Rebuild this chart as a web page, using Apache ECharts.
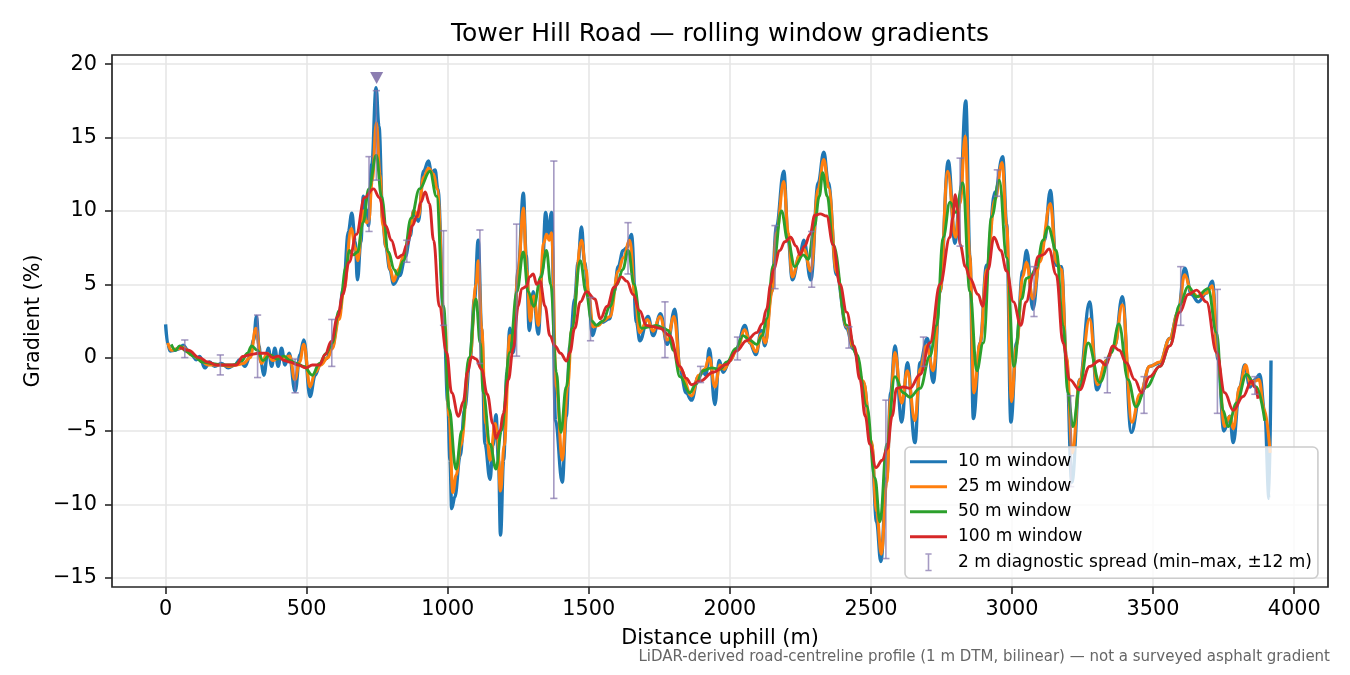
<!DOCTYPE html>
<html><head><meta charset="utf-8">
<script src="https://cdn.jsdelivr.net/npm/echarts@6/dist/echarts.min.js"></script>
<style>html,body{margin:0;padding:0;background:#fff}#c{width:1350px;height:675px}</style>
</head><body><div id="c"></div>
<script>
const xTicks = [0, 500, 1000, 1500, 2000, 2500, 3000, 3500, 4000];
const yTicks = [-15, -10, -5, 0, 5, 10, 15, 20];

const w10 = [[0,2.27],[8,0.9],[16,0.45],[32,0.5],[48,0.6],[62,0.85],[79,0.5],[91,0.2],[109,-0.15],[121,0.07],[139,-0.7],[156,-0.3],[174,-0.6],[198,-0.4],[222,-0.7],[245,-0.5],[263,-0.15],[281,-0.6],[299,0.07],[312,1.2],[322,2.8],[331,0.8],[338,-0.3],[348,-1.2],[364,0.64],[376,-0.6],[387,0.64],[399,-0.6],[411,0.64],[423,-0.5],[438,0.3],[459,-2.3],[476,0.2],[490,1.2],[512,-2.66],[530,-1.2],[547,-0.5],[571,-0.05],[589,0.64],[613,2.7],[630,4.7],[648,8.6],[660,9.85],[672,7.9],[680,5.3],[692,7.9],[701,11.0],[711,10.1],[719,9.0],[731,13.2],[746,18.4],[756,15.8],[770,9.4],[780,7.6],[795,6.0],[808,5.0],[830,5.6],[850,6.9],[867,8.3],[879,10.0],[896,9.3],[914,12.7],[932,13.4],[942,12.6],[955,12.8],[965,11.5],[987,2.2],[1000,-3.0],[1008,-7.0],[1014,-10.3],[1025,-9.5],[1044,-6.7],[1060,-3.5],[1079,-0.1],[1095,4.0],[1108,8.0],[1120,2.0],[1132,-5.9],[1150,-8.3],[1160,-6.0],[1171,-3.9],[1180,-7.0],[1187,-12.1],[1198,-7.0],[1210,-1.0],[1220,2.0],[1232,0.35],[1250,6.0],[1268,11.2],[1278,7.0],[1289,1.85],[1303,4.5],[1321,1.6],[1335,6.0],[1347,9.9],[1356,8.4],[1368,9.9],[1382,-4.3],[1406,-8.5],[1420,-4.0],[1433,0.8],[1450,4.0],[1462,6.5],[1474,8.9],[1485,6.5],[1498,4.5],[1513,1.5],[1527,2.2],[1545,2.4],[1574,2.65],[1590,4.5],[1604,6.2],[1622,7.3],[1635,7.5],[1651,8.4],[1669,2.4],[1681,1.15],[1710,2.8],[1728,1.5],[1754,3.0],[1778,0.9],[1805,3.3],[1823,-0.8],[1845,-2.4],[1864,-2.9],[1888,-1.3],[1905,-1.0],[1915,-1.2],[1927,0.6],[1947,-3.2],[1962,-0.2],[1976,-1.0],[2000,-0.2],[2024,0.6],[2053,2.2],[2071,1.0],[2092,0.2],[2112,1.85],[2124,0.8],[2148,4.5],[2165,8.9],[2191,12.7],[2207,8.0],[2221,5.3],[2248,7.0],[2262,8.0],[2287,5.3],[2313,11.9],[2333,14.0],[2349,11.9],[2378,5.65],[2414,2.0],[2437,0.6],[2473,-1.7],[2502,-5.9],[2520,-11.2],[2535,-13.9],[2556,-8.2],[2570,-2.4],[2585,0.8],[2609,-4.4],[2629,-0.35],[2656,-5.8],[2674,-0.35],[2700,1.3],[2721,-1.7],[2745,4.5],[2774,13.4],[2798,7.8],[2816,11.0],[2836,17.5],[2851,6.8],[2863,-4.15],[2887,1.0],[2910,6.3],[2940,11.3],[2967,13.7],[2981,9.1],[2996,-4.4],[3016,1.0],[3038,5.9],[3052,7.3],[3074,3.3],[3098,6.8],[3115,8.0],[3136,11.4],[3157,6.3],[3175,6.2],[3193,-0.1],[3212,-8.5],[3240,-1.5],[3275,3.8],[3301,-2.2],[3335,-0.2],[3364,0.8],[3391,4.15],[3423,-5.1],[3453,-2.65],[3488,-0.6],[3524,-0.35],[3559,1.3],[3589,3.1],[3612,6.1],[3636,4.3],[3660,3.8],[3689,4.4],[3710,5.2],[3730,-0.1],[3751,-5.0],[3772,-4.0],[3784,-5.8],[3807,-2.0],[3825,-0.5],[3843,-2.0],[3861,-1.5],[3878,-1.15],[3896,-3.8],[3911,-9.6],[3918,-0.2]];

const w25 = [[8,1.0],[20,0.5],[40,0.6],[62,0.7],[90,0.2],[120,-0.1],[150,-0.5],[175,-0.5],[200,-0.5],[225,-0.6],[250,-0.5],[275,-0.4],[300,0.0],[320,2.0],[340,-0.4],[360,0.3],[380,-0.2],[400,0.0],[420,0.0],[440,0.1],[458,-1.5],[475,-0.3],[490,0.9],[512,-2.0],[530,-1.0],[550,-0.5],[575,0.0],[590,0.6],[615,2.6],[632,4.6],[658,8.8],[672,7.5],[681,6.6],[700,10.0],[712,9.2],[720,9.3],[732,12.0],[747,16.0],[760,12.5],[770,9.0],[782,7.5],[797,6.0],[808,5.2],[825,6.0],[845,7.0],[862,8.2],[880,10.0],[896,9.6],[914,12.3],[932,12.9],[950,12.5],[962,11.5],[990,2.2],[1005,-4.0],[1018,-9.2],[1030,-8.0],[1046,-6.0],[1079,0.0],[1100,5.0],[1108,6.6],[1120,2.0],[1135,-4.5],[1150,-7.0],[1168,-4.5],[1175,-5.0],[1187,-9.1],[1200,-6.0],[1220,1.5],[1232,1.0],[1250,6.0],[1268,10.2],[1280,6.0],[1292,2.5],[1305,4.2],[1321,2.2],[1340,7.8],[1350,8.4],[1360,8.0],[1368,8.5],[1385,-2.0],[1406,-7.0],[1425,-2.0],[1440,2.0],[1474,8.0],[1490,6.0],[1500,4.2],[1515,2.1],[1535,2.2],[1550,2.5],[1575,2.8],[1605,5.9],[1622,6.8],[1645,8.0],[1665,4.0],[1680,1.7],[1708,2.6],[1728,1.8],[1752,2.8],[1778,1.2],[1802,2.8],[1825,-0.8],[1864,-2.6],[1890,-1.2],[1910,-0.8],[1927,0.0],[1947,-2.0],[1965,-0.5],[1980,-0.8],[2000,-0.2],[2025,0.5],[2053,1.9],[2072,1.0],[2092,0.4],[2112,1.6],[2126,1.0],[2150,4.5],[2165,8.5],[2191,12.0],[2207,8.5],[2221,5.5],[2248,7.0],[2262,7.4],[2287,5.9],[2313,11.5],[2333,13.5],[2350,11.6],[2378,5.8],[2414,2.1],[2437,0.7],[2473,-1.6],[2502,-5.7],[2520,-10.5],[2537,-13.4],[2556,-8.5],[2570,-2.8],[2585,0.35],[2609,-3.1],[2629,-0.9],[2656,-4.3],[2674,-0.8],[2697,0.8],[2721,-0.9],[2745,4.5],[2772,12.7],[2800,8.2],[2816,10.5],[2834,15.1],[2850,7.0],[2865,-2.4],[2887,1.0],[2910,6.0],[2940,10.8],[2965,13.3],[2981,9.0],[2998,-3.0],[3016,0.8],[3038,5.5],[3051,6.5],[3074,4.0],[3098,6.5],[3136,10.5],[3157,6.5],[3175,6.0],[3193,0.0],[3214,-6.5],[3240,-1.5],[3275,2.65],[3302,-1.85],[3335,-0.2],[3364,0.8],[3391,3.6],[3425,-4.4],[3453,-2.5],[3488,-0.6],[3524,-0.3],[3559,1.3],[3589,3.1],[3612,5.65],[3636,4.5],[3660,4.15],[3689,4.4],[3710,4.9],[3730,0.0],[3753,-4.7],[3772,-4.0],[3784,-4.85],[3807,-2.0],[3828,-0.5],[3845,-1.8],[3860,-1.6],[3875,-1.5],[3894,-3.5],[3915,-6.5]];

const w50 = [[20,0.9],[35,0.5],[50,0.8],[75,0.4],[100,0.1],[130,-0.3],[160,-0.4],[200,-0.5],[240,-0.5],[270,-0.2],[290,0.3],[305,0.8],[325,0.5],[345,-0.2],[370,0.2],[395,-0.1],[420,0.1],[440,-0.2],[465,-0.4],[490,-0.6],[520,-1.2],[545,-0.4],[570,0.3],[590,1.0],[615,3.2],[640,6.2],[651,7.3],[665,7.0],[680,7.2],[700,9.2],[720,11.5],[747,13.8],[765,11.0],[790,7.2],[810,6.0],[822,5.65],[843,6.6],[870,9.5],[900,11.5],[937,12.7],[960,11.0],[985,3.5],[1005,-3.5],[1029,-7.6],[1050,-5.0],[1075,0.0],[1100,4.0],[1115,1.0],[1126,-2.4],[1150,-5.9],[1171,-7.6],[1190,-5.0],[1220,0.35],[1245,4.5],[1268,7.2],[1285,4.5],[1305,3.5],[1330,5.5],[1350,7.3],[1365,5.0],[1385,-1.0],[1401,-5.1],[1420,-2.0],[1440,2.0],[1470,6.6],[1490,4.5],[1510,2.5],[1527,2.2],[1550,2.5],[1575,3.5],[1600,5.0],[1620,6.0],[1640,7.3],[1660,5.0],[1687,2.0],[1715,2.1],[1740,2.2],[1765,2.0],[1781,1.85],[1800,0.5],[1823,-1.3],[1858,-2.4],[1880,-1.8],[1905,-0.9],[1935,-0.7],[1964,-0.8],[1990,-0.3],[2020,0.6],[2047,1.5],[2070,1.2],[2095,0.9],[2115,1.5],[2130,2.65],[2154,6.3],[2183,10.0],[2205,8.0],[2230,6.2],[2260,7.0],[2278,6.7],[2300,9.0],[2317,11.0],[2329,12.6],[2345,11.0],[2366,7.7],[2414,2.2],[2450,0.2],[2485,-3.3],[2514,-8.2],[2532,-11.2],[2556,-5.9],[2585,-1.3],[2615,-2.4],[2638,-2.7],[2674,-2.1],[2709,0.1],[2733,2.2],[2756,8.2],[2780,10.6],[2801,9.9],[2825,11.9],[2851,4.5],[2875,-0.9],[2898,1.0],[2928,9.6],[2955,12.1],[2981,6.8],[3007,-0.6],[3034,4.0],[3051,5.4],[3064,5.5],[3086,6.1],[3110,8.0],[3128,8.9],[3157,7.3],[3181,2.2],[3198,-2.4],[3216,-4.7],[3240,-2.0],[3270,1.0],[3311,-1.7],[3352,0.35],[3379,2.3],[3411,-1.5],[3439,-3.35],[3476,-2.0],[3524,-0.6],[3559,0.8],[3595,3.6],[3624,4.85],[3654,4.15],[3695,4.7],[3725,1.7],[3748,-3.6],[3766,-4.7],[3796,-3.1],[3831,-1.15],[3866,-2.0],[3896,-4.3]];

const w100 = [[50,0.7],[80,0.5],[120,0.0],[150,-0.3],[180,-0.5],[220,-0.5],[250,-0.5],[274,0.07],[300,0.2],[330,0.3],[357,0.3],[380,0.0],[400,0.1],[420,-0.2],[440,-0.3],[470,-0.5],[498,-0.7],[520,-0.5],[546,-0.5],[565,0.2],[587,1.1],[610,2.8],[628,4.3],[650,6.5],[676,8.4],[705,10.9],[737,11.5],[758,10.9],[780,9.0],[800,8.0],[822,6.8],[840,7.0],[855,7.7],[875,9.0],[890,9.6],[905,10.6],[920,11.3],[935,10.5],[950,8.0],[970,3.5],[996,0.35],[1014,-2.4],[1038,-4.0],[1055,-3.0],[1070,-1.0],[1085,0.05],[1100,-0.1],[1120,-0.8],[1140,-2.5],[1160,-4.5],[1171,-5.5],[1185,-5.0],[1197,-3.8],[1215,-1.5],[1232,0.6],[1250,3.5],[1262,4.7],[1279,4.85],[1290,5.5],[1303,5.7],[1315,5.0],[1327,5.2],[1345,3.5],[1362,1.5],[1380,0.8],[1400,0.3],[1421,-0.23],[1433,0.35],[1450,2.0],[1470,3.8],[1492,4.5],[1521,4.0],[1541,2.65],[1565,3.5],[1590,4.8],[1616,5.5],[1635,5.2],[1657,4.3],[1680,3.2],[1704,2.2],[1730,2.1],[1752,2.0],[1787,1.5],[1823,-0.6],[1845,-1.4],[1864,-1.85],[1894,-1.6],[1941,-1.0],[1988,-0.46],[2024,0.46],[2059,1.15],[2095,1.7],[2115,2.3],[2130,3.3],[2145,5.0],[2154,6.0],[2177,7.3],[2195,7.9],[2215,8.2],[2235,7.6],[2248,7.0],[2265,7.6],[2284,8.4],[2301,9.7],[2320,9.8],[2343,9.65],[2366,7.7],[2390,5.0],[2414,3.1],[2440,0.8],[2461,-1.5],[2480,-4.0],[2496,-5.9],[2518,-7.5],[2540,-7.0],[2558,-6.2],[2575,-4.0],[2591,-2.1],[2615,-2.0],[2638,-2.1],[2674,-1.15],[2709,1.0],[2745,5.0],[2780,8.2],[2790,9.5],[2799,11.1],[2808,10.0],[2816,7.7],[2835,6.2],[2851,5.4],[2880,4.3],[2896,3.5],[2915,6.0],[2936,8.2],[2960,7.3],[2981,5.9],[3005,3.8],[3031,2.2],[3050,3.8],[3076,5.65],[3092,6.9],[3110,7.0],[3131,7.4],[3157,5.65],[3181,1.0],[3204,-1.5],[3240,-2.2],[3275,-0.6],[3311,-0.2],[3332,-0.5],[3358,0.8],[3380,0.5],[3405,-0.35],[3435,-1.5],[3459,-2.4],[3488,-1.3],[3524,-0.6],[3559,0.8],[3595,3.1],[3624,4.3],[3654,4.6],[3689,3.8],[3725,0.35],[3754,-2.4],[3784,-3.6],[3819,-2.65],[3849,-1.6],[3860,-2.0],[3872,-2.8]];

const errX  = [68, 194, 326, 459, 589, 721, 747, 855, 985, 1114, 1244, 1376, 1506, 1639, 1770, 1896, 2027, 2160, 2290, 2422, 2553, 2686, 2816, 2948, 3078, 3208, 3338, 3468, 3598, 3728, 3861];
const errLo = [0.0, -1.18, -1.36, -2.4, -0.6, 8.6, 12.1, 6.5, 2.2, -0.4, 0.1, -9.6, 1.15, 5.7, 0.0, -1.7, -0.16, 4.7, 4.8, 0.65, -13.7, -0.6, 7.6, 11.0, 2.8, -8.8, -2.4, -3.8, 2.2, -3.8, -2.5];
const errHi = [1.2, 0.18, 2.9, -0.1, 2.6, 13.7, 18.2, 8.0, 8.65, 8.7, 9.1, 13.4, 4.1, 9.2, 3.8, -0.6, 1.4, 9.0, 8.6, 2.1, -2.9, 1.4, 13.6, 12.8, 6.2, -2.6, 0.0, -1.3, 6.2, 4.65, -1.3];

const peakMarker = [[748, 19.07]];

const names = ['10 m window', '25 m window', '50 m window', '100 m window'];
const errName = '2 m diagnostic spread (min\u2013max, \u00b112 m)';
const colors = ['#1f77b4', '#ff7f0e', '#2ca02c', '#d62728'];
const widths = [3.4, 3.1, 2.9, 2.9];
const errColor = 'rgba(130,115,172,0.72)';
const FONT = 'DejaVu Sans';

const chart = echarts.init(document.getElementById('c'), null, {renderer: 'canvas'});
const lineSeries = [w10, w25, w50, w100].map((d, i) => ({
  name: names[i], type: 'line', data: d, symbol: 'none', showSymbol: false,
  smooth: 0.4, smoothMonotone: 'x', z: 2,
  lineStyle: {color: colors[i], width: widths[i]}, itemStyle: {color: colors[i]},
  emphasis: {disabled: true}
}));
const errData = errX.map((x, i) => [x, errLo[i], errHi[i]]);

const minus = v => String(v).replace('-', '\u2212');
const lineIcon = 'path://M0,0H37V3H0Z';

chart.setOption({
  animation: false,
  backgroundColor: '#fff',
  textStyle: {fontFamily: FONT},
  grid: {left: 112, right: 22, top: 55, bottom: 88, show: true, borderColor: '#262626', borderWidth: 1.7, backgroundColor: 'transparent', z: 10},
  xAxis: {
    type: 'value', min: -190, max: 4120, splitNumber: 8,
    axisLine: {show: false, onZero: false},
    axisTick: {show: true, inside: false, customValues: xTicks, length: 7, lineStyle: {color: '#262626', width: 1.6}},
    axisLabel: {customValues: xTicks, fontSize: 20.8, color: '#000', margin: 12, fontFamily: FONT, formatter: minus},
    splitLine: {show: true, lineStyle: {color: '#e6e6e6', width: 1.6}}
  },
  yAxis: {
    type: 'value', min: -15.64, max: 20.63, splitNumber: 7,
    axisLine: {show: false, onZero: false},
    axisTick: {show: true, inside: false, customValues: yTicks, length: 7, lineStyle: {color: '#262626', width: 1.6}},
    axisLabel: {customValues: yTicks, fontSize: 20.8, color: '#000', margin: 15, fontFamily: FONT, formatter: minus},
    splitLine: {show: true, lineStyle: {color: '#e6e6e6', width: 1.6}}
  },
  legend: {
    orient: 'vertical', left: 905, top: 447,
    itemWidth: 37, itemHeight: 18, itemGap: 8,
    padding: [6.2, 6, 7, 5],
    backgroundColor: 'rgba(255,255,255,0.8)', borderColor: '#cccccc', borderWidth: 1.6, borderRadius: 5,
    textStyle: {fontSize: 17, color: '#000', fontFamily: FONT, padding: [0, 0, 0, 6]},
    data: names.map(n => ({name: n, icon: lineIcon})).concat([{name: errName, icon: 'path://M0,0H8V2H5V21H8V23H0V21H3V2H0Z'}]),
    selectedMode: false
  },
  series: lineSeries.concat([
    {
      name: errName, type: 'custom', data: errData, z: 3,
      itemStyle: {color: errColor},
      encode: {x: 0, y: [1, 2]},
      renderItem: function (params, api) {
        const x = api.value(0);
        const lo = api.coord([x, api.value(1)]);
        const hi = api.coord([x, api.value(2)]);
        const cw = 3.6;
        const st = {stroke: errColor, lineWidth: 1.6, fill: null};
        return {type: 'group', children: [
          {type: 'line', shape: {x1: lo[0], y1: lo[1], x2: hi[0], y2: hi[1]}, style: st},
          {type: 'line', shape: {x1: lo[0] - cw, y1: lo[1], x2: lo[0] + cw, y2: lo[1]}, style: st},
          {type: 'line', shape: {x1: hi[0] - cw, y1: hi[1], x2: hi[0] + cw, y2: hi[1]}, style: st}
        ]};
      }
    },
    {
      name: 'peak', type: 'scatter', data: peakMarker, symbol: 'triangle', symbolRotate: 180,
      symbolSize: [13, 12], z: 4, itemStyle: {color: '#8677ad', opacity: 0.95}, emphasis: {disabled: true}
    }
  ]),
  graphic: [
    {type: 'text', x: 720, y: 34, style: {text: 'Tower Hill Road \u2014 rolling window gradients', font: '25px "DejaVu Sans"', fill: '#000', textAlign: 'center', textVerticalAlign: 'middle'}},
    {type: 'text', x: 720, y: 639, style: {text: 'Distance uphill (m)', font: '20.8px "DejaVu Sans"', fill: '#000', textAlign: 'center', textVerticalAlign: 'middle'}},
    {type: 'text', x: 34, y: 321, rotation: Math.PI / 2, style: {text: 'Gradient (%)', font: '20.8px "DejaVu Sans"', fill: '#000', textAlign: 'center', textVerticalAlign: 'middle'}},
    {type: 'text', x: 1330, y: 657, style: {text: 'LiDAR-derived road-centreline profile (1 m DTM, bilinear) \u2014 not a surveyed asphalt gradient', font: '15px "DejaVu Sans"', fill: '#666666', textAlign: 'right', textVerticalAlign: 'middle'}}
  ]
});
</script></body></html>
